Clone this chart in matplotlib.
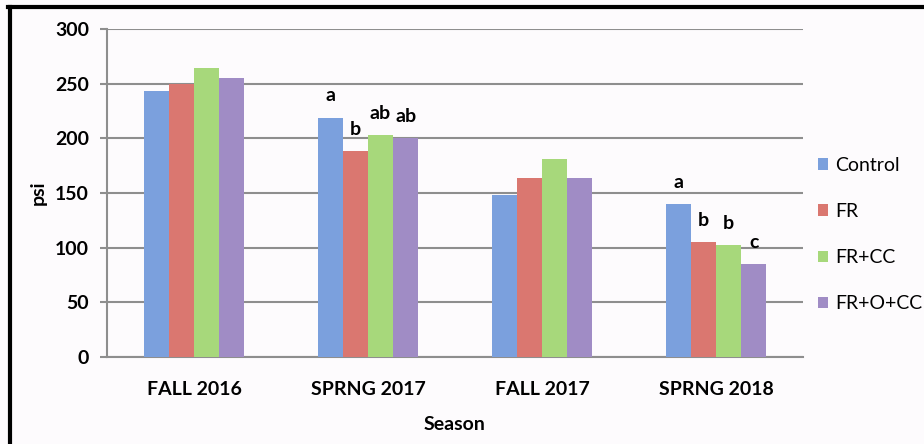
import matplotlib.pyplot as plt
import numpy as np
from matplotlib.lines import Line2D

seasons = ['FALL 2016', 'SPRNG 2017', 'FALL 2017', 'SPRNG 2018']
treatments = ['Control', 'FR', 'FR+CC', 'FR+O+CC']
control = [243, 219, 148, 140]
fr = [250, 188, 164, 105]
fr_cc = [264, 203, 181, 102]
fr_o_cc = [255, 200, 164, 85]
letters_spring17 = ['a', 'b', 'ab', 'ab']
letters_spring18 = ['a', 'b', 'b', 'c']

colors = ['#7ba0dd', '#da7770', '#a7d87b', '#a08cc5']
values = [control, fr, fr_cc, fr_o_cc]

plt.rcParams['font.family'] = ['Lato', 'DejaVu Sans']
fig = plt.figure(figsize=(9.24, 4.44), dpi=100, facecolor='#fdfbfd')
ax = fig.add_axes([107 / 924, 1 - 357 / 444, 696 / 924, 328 / 444])
ax.set_facecolor('#fdfbfd')

x = np.arange(len(seasons))
w = 0.144
for i, (name, vals) in enumerate(zip(treatments, values)):
    ax.bar(x + (i - 1.5) * w, vals, w, color=colors[i], label=name, zorder=3)

# significance letters
for idx, lets in [(1, letters_spring17), (3, letters_spring18)]:
    for i, l in enumerate(lets):
        ax.text(idx + (i - 1.5) * w, values[i][idx] + 20, l, ha='center', va='center',
                fontsize=14, fontweight='bold', zorder=4)

ax.set_xlim(-0.5, 3.5)
ax.set_ylim(0, 300)
ax.set_yticks(range(0, 301, 50))
ax.set_xticks(x)
ax.set_xticklabels(seasons, fontsize=14, fontweight='bold')
for t in ax.get_yticklabels():
    t.set_fontsize(14)
    t.set_fontweight('bold')
ax.yaxis.grid(True, color='#8e8e8e', lw=1.5, zorder=0)
ax.set_axisbelow(True)
for s in ['top', 'right']:
    ax.spines[s].set_visible(False)
ax.spines['left'].set_color('#8e8e8e')
ax.spines['left'].set_linewidth(1.5)
ax.spines['bottom'].set_color('#8e8e8e')
ax.spines['bottom'].set_linewidth(1.5)
ax.tick_params(axis='y', length=5, width=1.5, color='#8e8e8e', pad=8)
ax.tick_params(axis='x', length=0, pad=17)

ax.set_xlabel('Season', fontsize=14, fontweight='bold', labelpad=13)
ax.set_ylabel('psi', fontsize=14, fontweight='bold', labelpad=6)

leg = ax.legend(loc='center left', bbox_to_anchor=(1.01, 0.373), frameon=False,
                fontsize=14, handlelength=0.55, handleheight=0.55, handletextpad=0.35,
                labelspacing=1.5, borderaxespad=0.0)

# frame lines of the screenshot
fig.add_artist(Line2D([8 / 924, 1], [1 - 7 / 444, 1 - 7 / 444], color='black', lw=3))
fig.add_artist(Line2D([10 / 924, 10 / 924], [0, 1 - 7 / 444], color='black', lw=3))

plt.savefig('out.png', dpi=100, facecolor=fig.get_facecolor())
